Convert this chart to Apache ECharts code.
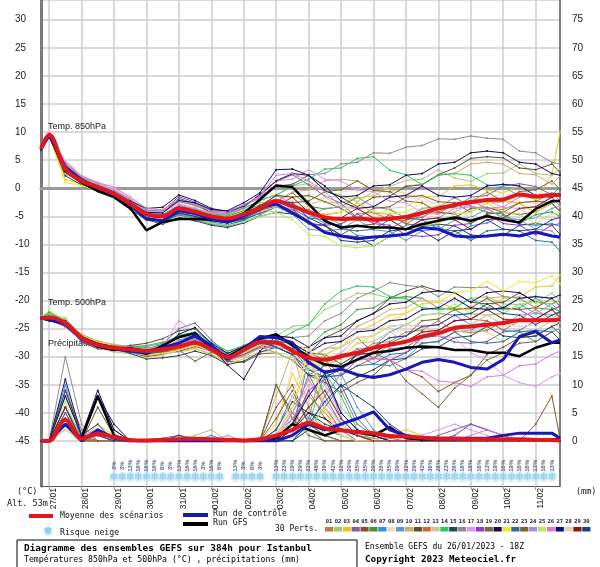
<!DOCTYPE html>
<html><head><meta charset="utf-8">
<script src="https://cdn.jsdelivr.net/npm/echarts@6/dist/echarts.min.js"></script>
<style>html,body{margin:0;padding:0;background:#fff}#c{width:600px;height:567px}</style>
</head><body><div id="c"></div>
<script>
// forecast hours of the sampled points (run 26/01/2023 18Z)
const hours = [0,6,18,30,42,54,66,78,90,102,114,126,138,150,162,174,186,198,210,222,234,246,258,270,282,294,306,318,330,342,354,366,378,384];
const dayLabels = ['27/01','28/01','29/01','30/01','31/01','01/02','02/02','03/02','04/02','05/02','06/02','07/02','08/02','09/02','10/02','11/02'];
const memberNames = ['01','02','03','04','05','06','07','08','09','10','11','12','13','14','15','16','17','18','19','20','21','22','23','24','25','26','27','28','29','30'];
const memberColors = ['#c8783c','#a0c878','#e8c81e','#7864a8','#8c5028','#3c963c','#3c8cdc','#ecdcc4','#5a96c8','#d2aa6e','#5a5032','#dc6428','#c8c896','#28c864','#284650','#8c8c8c','#dc96f0','#8c3cc8','#786440','#1e0a50','#f0e628','#2d6e9b','#786428','#9696dc','#b4f050','#dc78dc','#0a0a78','#e6d2b4','#8c1414','#1e3c8c'];

// Temp 850hPa (°C)
const t850Mean = [7.0,9.5,3.5,1.3,0.2,-1.0,-2.8,-4.6,-5.0,-3.6,-4.2,-5.0,-5.4,-4.6,-3.6,-2.3,-3.2,-4.3,-5.2,-5.5,-5.4,-5.6,-5.4,-5.1,-4.4,-3.6,-3.0,-2.5,-2.1,-2.0,-1.1,-1.5,-1.2,-1.2];
const t850Ctrl = [7.0,9.4,3.8,1.5,0.0,-1.2,-3.0,-5.5,-5.8,-4.0,-4.5,-5.5,-6.0,-5.0,-3.5,-2.8,-4.4,-6.0,-7.9,-8.5,-9.0,-8.7,-8.5,-8.2,-7.0,-7.3,-8.5,-8.7,-8.5,-8.2,-8.5,-7.8,-8.5,-8.7];
const t850Gfs = [7.0,9.6,3.0,1.0,-0.5,-1.5,-3.5,-7.5,-6.0,-5.5,-5.5,-5.6,-5.8,-4.5,-2.0,0.5,0.2,-2.8,-5.8,-7.0,-6.7,-7.0,-7.0,-7.3,-6.4,-5.8,-5.2,-5.8,-5.0,-5.6,-6.1,-3.7,-2.3,-2.3];
const t850Perts = [
[6.8,9.4,3.0,1.5,0.5,-0.8,-2.5,-4.2,-5.5,-3.0,-4.0,-5.5,-6.0,-5.0,-3.0,-2,-3.5,-3.8,-5.2,-6.4,-4.6,-4.3,-5.6,-5.8,-4.4,-4.6,-2.7,-2.2,-3.6,-3.8,-2.6,-2.4,-0.8,-2.3],
[7.2,9.6,4.5,2.0,0.8,-0.5,-2.0,-4.0,-4.5,-2.0,-3.0,-4.5,-5.0,-4.0,-2.0,-1.3,0.4,0.8,-0.6,-1.2,-2.4,-0.6,0.3,1.4,1.6,3.3,1.8,1.2,2.6,2.7,4.3,2.6,2.3,3.4],
[7.0,9.3,1.5,0.8,-0.3,-1.5,-3.0,-5.0,-5.5,-4.0,-4.5,-5.0,-5.5,-5.0,-4.0,-3.2,-1.6,-1.3,-2.5,-2.6,-1.7,-1.4,0.3,-1.2,-1.6,-1.5,0.4,0.6,-0.4,-0.8,0.4,-2.2,2.4,10],
[6.5,9.5,4.0,1.0,0.0,-1.2,-3.2,-4.5,-4.0,-1.5,-2.5,-4.0,-4.5,-3.5,-1.0,1.2,2.4,0.6,-1.4,-2.7,-5.3,-5.6,-7.3,-5.6,-5.2,-3.6,-3.4,-1.6,-1.3,0.4,0.8,0.3,-1.2,0.2],
[7.1,9.7,3.2,1.8,0.4,-0.6,-2.2,-4.8,-5.8,-4.5,-5.0,-5.8,-6.2,-5.5,-4.5,-3.3,-3.8,-6.3,-6.6,-8.3,-6.7,-6.4,-4.7,-6.3,-6.8,-5.7,-5.3,-3.6,-3.4,-4.3,-4.7,-4.2,-2.7,-4.1],
[7.3,9.5,2.5,1.2,0.6,-1.0,-2.6,-4.4,-4.8,-3.2,-3.8,-4.8,-5.0,-4.0,-3.0,-2.4,-0.8,-3.2,-3.7,-3.3,-1.6,-3.3,-3.8,-5.3,-3.6,-3.3,-1.7,-3.2,-4.3,-4.6,-6.3,-4.7,-4.2,-5.1],
[6.9,9.4,3.6,1.4,-0.2,-1.4,-3.4,-5.2,-6.0,-4.6,-5.2,-6.0,-6.5,-5.8,-4.2,-2.2,-3.4,-4.6,-6.3,-6.6,-8.4,-8.7,-8.3,-6.6,-6.3,-6.8,-8.3,-6.7,-6.2,-4.8,-6.4,-6.6,-6.3,-6.8],
[7.0,9.6,5.0,2.4,1.0,0.0,-1.8,-3.8,-4.2,-2.6,-3.4,-4.6,-4.8,-3.8,-2.5,-0.8,-2.3,-2.6,-2.4,-0.7,-0.3,1.2,-0.4,-0.8,-2.3,-2.6,-4.3,-2.8,-2.2,-0.7,-2.4,-2.7,-1.6,-3.2],
[6.6,9.2,3.3,0.9,-0.4,-1.6,-3.6,-5.4,-6.2,-5.0,-5.6,-6.4,-6.8,-6.0,-4.8,-3.3,-4.6,-7.3,-7.6,-7.3,-5.6,-7.4,-7.7,-9.3,-7.6,-7.3,-5.7,-5.2,-3.7,-5.3,-5.6,-5.3,-3.6,-3.2],
[7.4,9.8,4.2,1.6,0.3,-0.9,-2.4,-4.0,-3.8,-2.2,-3.2,-4.2,-4.4,-3.4,-2.6,-2.3,-0.7,-0.3,1.3,1.6,1.3,-0.4,-0.7,0.4,0.7,2.4,2.6,4.3,4.6,4.3,2.6,2.4,0.7,2.2],
[7.0,9.5,3.8,1.1,0.1,-1.1,-2.9,-4.6,-4.4,-1.8,-2.8,-4.4,-4.6,-3.0,-1.5,0.3,0.7,2.3,-0.4,-1.6,-3.3,-1.6,-1.4,0.3,0.6,2.4,3.6,5.3,5.6,5.4,3.6,3.3,4.3,2.8],
[6.8,9.3,2.8,1.3,0.2,-0.9,-2.7,-4.9,-5.2,-3.8,-4.4,-5.2,-5.6,-4.8,-3.4,-2.3,-2.6,-4.4,-4.7,-4.3,-2.6,-4.4,-4.6,-6.4,-4.6,-4.3,-2.6,-2.4,-0.7,-2.3,-2.7,-4.3,-2.6,-2.3],
[7.2,9.6,3.4,1.7,0.7,-0.4,-2.1,-4.3,-4.6,-3.4,-4.0,-4.9,-5.2,-4.2,-3.8,-4.3,-3.6,-3.3,-1.6,-1.3,-1.7,-3.3,-3.6,-5.3,-3.7,-3.4,-1.6,-3.3,-3.6,-5.4,-3.7,-3.3,-1.6,-3.2],
[7.1,9.5,3.9,1.5,0.4,-0.7,-2.6,-4.5,-4.9,-3.2,-3.6,-4.6,-4.8,-3.6,-2.2,-1.2,0.4,1.6,3.4,3.6,5.3,5.6,3.2,2.4,0.6,2.3,2.6,2.3,0.6,0.3,-1.4,-1.6,-1.3,0.3],
[6.7,9.4,2.2,0.6,-0.6,-1.8,-3.8,-5.6,-6.4,-5.2,-5.8,-6.6,-7.0,-6.2,-5.0,-4.3,-4.6,-6.3,-6.7,-8.4,-8.6,-10.3,-8.6,-8.3,-6.6,-6.4,-6.7,-8.3,-8.6,-8.4,-6.6,-6.3,-6.6,-8.2],
[7.0,9.6,4.4,1.9,0.9,-0.3,-2.0,-3.9,-4.1,-2.4,-3.0,-4.0,-4.2,-3.0,-1.8,0.3,0.6,2.4,2.6,4.3,4.6,6.3,6.2,7.3,7.6,8.8,8.7,9.3,8.9,8.7,6.6,6.3,4.6,4.3],
[7.3,9.7,4.8,2.2,0.8,-0.2,-1.9,-4.1,-4.3,-2.8,-3.6,-4.4,-4.6,-3.2,-1.6,1.3,1.6,3.3,1.6,1.3,-0.4,-0.6,-2.3,-2.6,-4.3,-4.6,-4.3,-2.6,-2.3,-3.4,-3.6,-3.3,-1.6,-3.3],
[6.9,9.4,3.1,1.0,-0.1,-1.3,-3.1,-5.0,-5.6,-4.4,-5.0,-5.6,-6.0,-5.2,-4.0,-2.3,-3.6,-6.3,-6.6,-6.4,-4.6,-6.3,-6.6,-8.3,-8.6,-8.3,-6.6,-6.3,-4.6,-6.3,-6.6,-8.3,-6.6,-6.3],
[7.0,9.5,3.5,1.4,0.3,-0.8,-2.7,-4.7,-5.3,-3.9,-4.3,-5.3,-5.8,-5.0,-3.8,-3.3,-1.6,-1.3,-2.4,-3.6,-5.3,-3.6,-3.3,-1.6,-1.3,-2.4,-2.6,-4.3,-2.6,-2.4,-0.6,-0.3,1.3,-0.2],
[7.2,9.5,3.7,1.6,0.5,-0.6,-2.3,-3.6,-3.4,-1.2,-2.2,-3.6,-4.2,-3.2,-1.2,1.3,2.6,2.3,-0.4,-1.6,-1.3,0.4,0.6,2.3,2.6,4.3,4.6,6.3,6.6,6.3,4.6,4.3,2.6,2.3],
[6.8,9.3,1.0,0.5,-0.5,-1.7,-3.3,-5.3,-5.4,-4.2,-4.8,-5.4,-5.8,-5.0,-3.6,-2.3,-2.6,-4.3,-4.6,-4.3,-2.6,-4.3,-4.6,-4.3,-2.6,-4.3,-4.6,-4.3,-2.6,-2.3,-2.6,-4.3,-2.6,-2.3],
[7.1,9.6,3.3,1.2,0.0,-1.2,-3.0,-5.1,-5.9,-4.8,-5.4,-6.2,-6.6,-5.6,-4.4,-3.3,-3.6,-5.3,-5.6,-7.3,-7.6,-7.3,-5.6,-5.3,-5.6,-7.3,-7.6,-9.3,-7.6,-7.3,-7.6,-9.3,-9.6,-11.2],
[7.0,9.4,2.9,1.3,0.2,-1.0,-2.8,-4.4,-5.0,-3.6,-4.2,-5.0,-5.4,-4.6,-3.6,-2.3,-2.6,-2.3,-0.6,-0.3,1.3,-0.4,-0.6,-2.3,-2.6,-4.3,-4.6,-6.3,-4.6,-4.3,-2.6,-2.3,-2.6,-4.2],
[6.9,9.5,3.6,1.5,0.6,-0.5,-2.4,-4.2,-4.7,-3.0,-3.8,-4.8,-5.2,-4.4,-3.2,-1.3,-2.6,-5.3,-3.6,-3.3,-3.6,-5.3,-5.6,-7.3,-5.6,-5.3,-3.6,-3.3,-3.6,-5.3,-5.6,-7.3,-7.6,-9.3],
[7.3,9.7,3.0,0.9,-0.3,-1.5,-3.5,-5.5,-6.2,-5.0,-5.4,-6.2,-6.6,-6.0,-5.0,-4.3,-5.6,-8.3,-8.6,-10.3,-10.6,-10.3,-8.6,-8.3,-6.6,-6.3,-4.6,-4.3,-2.6,-4.3,-4.6,-6.3,-4.6,-4.3],
[7.0,9.5,4.6,2.1,1.0,0.2,-1.6,-3.6,-3.9,-2.0,-2.8,-4.0,-4.2,-3.0,-1.4,2.3,2.6,1.3,-0.6,-3.3,-3.6,-3.3,-1.6,-1.3,0.4,-1.3,-1.6,-3.3,-3.6,-3.3,-1.6,-1.3,-1.6,-3.2],
[6.8,9.4,3.8,1.4,0.3,-0.9,-2.5,-4.3,-4.4,-2.2,-2.6,-3.8,-4.0,-2.6,-0.8,3.3,3.4,2.3,0.4,-2.3,-3.6,-3.3,-1.6,-1.3,0.4,-1.3,-1.6,-1.3,0.4,0.7,0.4,-1.3,-1.6,-1.2],
[7.1,9.6,2.6,1.0,-0.2,-1.4,-3.2,-5.0,-5.6,-4.2,-4.8,-5.4,-5.8,-5.2,-4.2,-3.3,-3.6,-3.3,-1.6,-3.3,-3.6,-5.3,-3.6,-3.3,-1.6,-3.3,-3.6,-5.3,-5.6,-5.3,-3.6,-5.3,-5.6,-5.2],
[7.0,9.5,3.4,1.6,0.4,-0.7,-2.5,-4.6,-5.0,-3.4,-4.0,-5.0,-5.4,-4.4,-3.2,-1.3,-1.6,-4.3,-5.6,-5.3,-3.6,-5.3,-5.6,-7.3,-5.6,-5.3,-5.6,-7.3,-5.6,-5.3,-3.6,-3.3,-1.6,-1.2],
[6.9,9.4,3.1,1.2,0.0,-1.2,-3.1,-5.2,-5.8,-4.4,-5.0,-5.8,-6.2,-5.4,-4.0,-2.3,-2.6,-5.3,-6.6,-9.3,-9.6,-9.3,-7.6,-7.3,-7.6,-9.3,-7.6,-7.3,-5.6,-7.3,-7.6,-7.3,-5.6,-5.2]
];

// Temp 500hPa (°C)
const t500Mean = [-23.1,-23.0,-24.0,-26.6,-27.9,-28.4,-28.7,-29.0,-28.7,-28.2,-27.5,-28.7,-30.1,-28.8,-27.4,-27.5,-29.0,-30.2,-30.5,-29.9,-29.3,-28.4,-27.9,-27.3,-26.4,-25.8,-24.9,-24.6,-24.3,-24.0,-23.5,-23.5,-23.5,-23.3];
const t500Ctrl = [-23.1,-23.4,-24.2,-26.8,-28.0,-28.6,-29.0,-29.3,-28.4,-27.6,-26.2,-28.0,-30.5,-28.6,-26.4,-26.6,-27.5,-31.0,-32.8,-32.2,-33.2,-33.7,-33.2,-32.2,-31.0,-30.5,-31.0,-31.9,-32.2,-30.5,-26.4,-25.5,-27.5,-27.0];
const t500Gfs = [-23.1,-23.5,-24.0,-26.5,-28.2,-28.8,-28.5,-29.5,-28.0,-26.5,-25.8,-28.5,-30.0,-28.4,-26.8,-26.0,-28.0,-30.0,-31.4,-31.8,-30.5,-29.3,-29.0,-28.4,-28.2,-28.3,-28.8,-28.8,-29.3,-29.3,-29.9,-28.4,-27.5,-27.5];
const t500Perts = [
[-23.0,-23.2,-24.5,-26.0,-27.5,-28.0,-28.5,-29.5,-28.0,-27.5,-27.0,-28.5,-30.0,-29.5,-28.0,-27,-28.6,-29.6,-31.3,-29.6,-29.3,-27.6,-27.3,-25.6,-25.3,-23.6,-25.4,-25.7,-25.3,-23.7,-23.3,-21.6,-23.4,-22],
[-23.2,-22.8,-23.5,-27.0,-28.5,-29.0,-29.5,-29.0,-27.5,-26.5,-26.0,-27.5,-29.0,-28.5,-27.0,-26.3,-24.6,-24.3,-21.6,-20.3,-18.7,-18.8,-19.6,-19.7,-21.3,-21.6,-21.3,-19.6,-19.3,-20.6,-20.7,-20.3,-18.7,-20],
[-23.1,-22.5,-24.0,-26.5,-27.8,-28.6,-29.0,-29.8,-29.5,-29.0,-28.5,-29.5,-31.0,-30.0,-28.5,-28.3,-29.6,-31.3,-29.6,-28.3,-25.6,-24.3,-22.6,-22.3,-20.6,-20.3,-21.4,-21.6,-21.3,-19.6,-19.3,-17.6,-17.4,-15.5],
[-22.9,-23.0,-23.8,-27.2,-28.2,-28.4,-28.2,-28.6,-27.8,-25.0,-24.0,-27.0,-29.5,-28.0,-27.0,-27.3,-28.6,-32.3,-33.6,-33.3,-30.6,-30.3,-28.6,-28.3,-26.6,-26.3,-27.4,-27.6,-27.3,-25.6,-25.3,-23.6,-23.3,-24],
[-23.0,-23.4,-24.6,-26.4,-27.6,-28.8,-29.2,-30.0,-29.6,-29.0,-28.2,-29.0,-30.8,-31.0,-29.5,-29.3,-30.6,-33.3,-34.6,-36.3,-34.6,-33.3,-30.6,-32.3,-33.6,-36.2,-34.6,-33.3,-29.6,-28.3,-26.6,-26.3,-24.6,-26],
[-23.2,-22.0,-23.8,-26.8,-28.0,-28.2,-28.4,-28.8,-28.0,-27.6,-26.8,-28.4,-30.0,-29.0,-27.0,-28.3,-28.6,-28.3,-25.6,-24.3,-21.6,-21.3,-19.6,-19.3,-19.6,-21.3,-21.6,-23.3,-21.6,-21.3,-19.6,-21.3,-21.6,-21],
[-23.1,-23.6,-24.2,-26.2,-27.4,-28.0,-28.6,-29.4,-29.2,-28.4,-27.6,-28.8,-30.4,-29.4,-27.6,-27.3,-27.6,-30.3,-31.6,-31.3,-29.6,-31.3,-31.6,-30.3,-27.6,-27.3,-25.6,-25.3,-23.6,-25.3,-25.6,-27.3,-25.6,-25],
[-22.8,-22.8,-23.6,-26.6,-28.2,-29.0,-29.6,-30.2,-29.8,-28.8,-27.8,-29.2,-30.6,-29.2,-27.8,-26.3,-26.6,-29.3,-29.6,-29.3,-27.6,-27.3,-25.6,-25.3,-23.6,-23.3,-21.6,-21.3,-21.6,-23.3,-23.6,-23.3,-21.6,-23],
[-23.0,-23.2,-24.4,-26.8,-27.8,-28.2,-28.0,-28.4,-28.6,-27.0,-26.4,-28.0,-29.6,-28.8,-27.4,-28.3,-29.6,-32.3,-32.6,-32.3,-29.6,-28.3,-25.6,-24.3,-22.6,-22.3,-22.6,-24.3,-22.6,-22.3,-20.6,-22.3,-22.6,-22],
[-23.1,-22.6,-23.4,-26.0,-27.2,-27.8,-28.2,-28.6,-28.0,-27.4,-27.0,-28.6,-30.2,-29.6,-28.2,-27.3,-28.6,-31.3,-28.6,-27.3,-24.6,-23.3,-21.6,-21.3,-19.6,-21.3,-21.6,-21.3,-19.6,-19.3,-19.6,-21.3,-19.6,-19],
[-23.0,-23.0,-24.0,-27.4,-28.6,-28.8,-28.0,-27.6,-26.8,-25.4,-25.0,-27.8,-29.8,-28.4,-26.6,-28.3,-29.6,-29.3,-26.6,-25.3,-23.6,-22.3,-19.6,-18.3,-17.4,-18.3,-18.6,-20.3,-20.6,-20.3,-18.6,-20.3,-20.6,-20],
[-23.2,-23.3,-24.2,-26.6,-27.6,-28.4,-29.0,-29.2,-29.0,-28.6,-27.8,-28.6,-29.8,-29.0,-27.8,-27.3,-27.6,-29.3,-30.6,-33.3,-31.6,-30.3,-27.6,-27.3,-25.6,-25.3,-23.6,-23.3,-23.6,-25.3,-23.6,-23.3,-21.6,-23],
[-23.1,-23.1,-24.8,-27.0,-28.4,-29.2,-29.4,-29.6,-29.4,-29.2,-28.6,-29.6,-31.2,-30.4,-29.0,-29.3,-29.6,-31.3,-31.6,-30.3,-27.6,-27.3,-25.6,-27.3,-27.6,-27.3,-25.6,-25.3,-25.6,-27.3,-25.6,-25.3,-23.6,-25],
[-22.9,-22.4,-23.2,-26.2,-27.6,-28.0,-28.4,-28.2,-27.6,-26.2,-25.6,-27.4,-29.0,-28.0,-26.8,-27.3,-25.6,-24.3,-20.6,-18.3,-17.4,-17.6,-19.3,-19.6,-21.3,-21.6,-21.3,-19.6,-21.3,-21.6,-21.3,-19.6,-21.3,-22],
[-23.0,-23.5,-24.4,-26.8,-28.0,-28.6,-29.4,-30.4,-30.2,-29.8,-29.0,-29.8,-31.4,-30.8,-29.2,-28.3,-28.6,-31.3,-32.6,-35.3,-33.6,-32.3,-30.6,-30.3,-28.6,-28.3,-26.6,-26.3,-24.6,-26.3,-26.6,-26.3,-24.6,-24],
[-23.1,-22.7,-23.6,-26.4,-27.8,-28.2,-28.2,-28.0,-27.4,-26.6,-26.4,-28.0,-29.4,-28.2,-26.4,-26.3,-26.6,-26.3,-23.6,-22.3,-19.6,-18.3,-16.8,-17.3,-17.6,-19.3,-17.6,-17.7,-17.6,-19.3,-19.6,-19.3,-19.6,-21],
[-23.0,-23.0,-24.0,-26.6,-28.0,-28.6,-28.8,-29.0,-28.2,-23.5,-26.0,-28.8,-30.4,-29.2,-27.6,-27.3,-27.6,-30.3,-30.6,-29.3,-26.6,-26.3,-24.6,-24.3,-24.6,-26.3,-26.6,-29.3,-30.6,-33.3,-34.6,-35.3,-33.6,-33],
[-23.2,-23.4,-24.6,-27.2,-28.4,-28.8,-29.0,-29.4,-29.0,-28.4,-27.8,-29.0,-30.8,-29.6,-28.2,-29.3,-30.6,-33.3,-31.6,-30.3,-28.6,-30.3,-30.6,-29.3,-26.6,-25.3,-23.6,-23.3,-21.6,-21.3,-21.6,-23.3,-21.6,-21],
[-23.0,-23.1,-24.0,-26.4,-27.6,-28.2,-28.6,-29.0,-29.2,-28.8,-30.8,-29.2,-30.2,-29.2,-28.0,-28.3,-28.6,-30.3,-28.6,-28.3,-26.6,-29.3,-30.6,-34.3,-36.6,-39,-35.6,-33.3,-30.6,-29.3,-27.6,-27.3,-25.6,-27],
[-23.1,-22.9,-23.8,-26.8,-28.2,-28.6,-28.4,-28.8,-28.4,-27.6,-26.6,-28.2,-31.5,-34.0,-29.0,-26.3,-26.6,-28.3,-26.6,-26.3,-23.6,-22.3,-20.6,-20.3,-18.6,-18.3,-18.6,-20.3,-18.6,-18.3,-18.6,-20.3,-20.6,-20],
[-22.9,-23.2,-24.4,-26.2,-27.4,-28.0,-28.8,-29.6,-29.4,-28.8,-28.0,-28.8,-30.0,-28.8,-27.6,-27.3,-28.6,-31.3,-31.6,-30.3,-27.6,-26.3,-23.6,-22.3,-20.6,-20.3,-18.6,-18.3,-16.6,-18.3,-16.6,-16.8,-15.6,-17],
[-23.0,-23.3,-24.2,-27.0,-28.0,-28.6,-29.2,-29.6,-29.0,-28.2,-27.4,-28.6,-30.6,-29.6,-28.4,-28.3,-29.6,-32.3,-33.6,-33.3,-31.6,-31.3,-29.6,-29.3,-27.6,-27.3,-25.6,-27.3,-27.6,-27.3,-25.6,-25.3,-25.6,-27],
[-23.2,-23.0,-23.8,-26.6,-28.0,-28.4,-28.6,-28.8,-28.6,-28.0,-27.2,-28.4,-29.8,-28.8,-27.4,-27.3,-27.6,-29.3,-29.6,-31.3,-29.6,-29.3,-27.6,-26.3,-23.6,-23.3,-21.6,-21.3,-19.6,-21.3,-21.6,-21.3,-19.6,-21],
[-23.1,-22.8,-23.6,-26.8,-27.8,-28.2,-28.8,-29.2,-28.8,-27.2,-26.8,-28.4,-29.6,-28.6,-27.2,-26.3,-27.6,-30.3,-30.6,-30.3,-28.6,-28.3,-26.6,-26.3,-24.6,-24.3,-22.6,-22.3,-22.6,-24.3,-22.6,-22.3,-20.6,-22],
[-23.0,-21.8,-23.4,-26.6,-28.2,-28.8,-29.0,-29.4,-28.8,-28.4,-27.6,-28.8,-30.2,-29.4,-28.0,-29.3,-30.6,-32.3,-29.6,-28.3,-26.6,-26.3,-24.6,-24.3,-22.6,-22.3,-20.6,-22.3,-22.6,-22.3,-20.6,-20.3,-20.6,-20],
[-23.1,-23.2,-24.2,-26.8,-28.0,-28.6,-29.0,-29.2,-28.6,-27.8,-27.0,-29.0,-30.6,-29.8,-28.4,-28.3,-28.6,-31.3,-32.6,-32.3,-30.6,-30.3,-30.6,-32.3,-32.6,-34.3,-34.6,-35.3,-33.6,-33.3,-31.6,-31.3,-29.6,-29],
[-22.9,-23.0,-23.6,-26.4,-27.6,-28.2,-28.6,-29.0,-28.4,-26.0,-24.8,-27.6,-29.4,-28.2,-26.6,-26.3,-27.6,-29.3,-27.6,-27.3,-25.6,-25.3,-23.6,-23.3,-21.6,-21.3,-19.6,-21.3,-21.6,-21.3,-19.6,-19.3,-19.6,-19],
[-23.0,-23.1,-24.0,-26.6,-27.8,-28.4,-28.8,-29.0,-28.8,-28.4,-27.8,-28.8,-30.2,-29.2,-27.8,-28.3,-28.6,-30.3,-28.6,-28.3,-26.6,-26.3,-24.6,-24.3,-24.6,-26.3,-24.6,-24.3,-22.6,-24.3,-24.6,-24.3,-22.6,-24],
[-23.2,-23.4,-24.4,-26.8,-28.2,-28.6,-28.8,-29.2,-28.8,-28.2,-27.4,-28.6,-30.0,-29.0,-27.6,-27.3,-28.6,-31.3,-32.6,-32.3,-29.6,-29.3,-27.6,-27.3,-25.6,-25.3,-23.6,-23.3,-21.6,-23.3,-23.6,-23.3,-21.6,-23],
[-23.1,-23.2,-24.2,-26.6,-27.8,-28.4,-28.6,-29.0,-28.6,-28.0,-27.2,-28.6,-30.0,-28.8,-27.4,-28.3,-29.6,-33.3,-33.6,-32.3,-29.6,-28.3,-26.6,-26.3,-24.6,-24.3,-22.6,-22.3,-20.6,-22.3,-22.6,-24.3,-22.6,-22]
];

// Precipitation (mm, right axis)
const precipMean = [0,0,3.8,0.4,1.3,0.7,0.2,0.1,0.2,0.3,0.4,0.3,0.2,0.1,0.3,1.0,2.0,3.2,2.3,1.9,1.6,1.4,0.9,0.8,0.6,0.4,0.4,0.3,0.3,0.3,0.3,0.2,0.2,0.1];
const precipCtrl = [0,0,3,0,2,0.5,0,0,0,0,0,0,0,0,0,0,1,3,2,3,4,5.2,2,1,0.5,0.5,0.5,0.5,0.5,1,1.4,1.4,1.4,0.5];
const precipGfs = [0,0,3,0.5,8,1,0,0,0,0,0,0,0,0,0,0.5,3,2,1,2,1.5,1,2.5,0.5,0.3,0.3,0.3,0.3,0.3,0.3,0.3,0.3,0.3,0.3];
const precipPerts = [
[0,0,3,0.5,1,0.5,0,0,0,0.5,0,0,0,0,0,1,4,8,5,2,1,0.5,0.5,0,0,0,0,0,0.5,0,0,0,0,0],
[0,0,5,1,0,0,0,0,0,0,1,2,0,0,0,0,2,6,10,6,3,1,0,0,0,0,0,0,0,0,0,0,0,0],
[0,0,2,0,3,1,0,0,0,0,0,0,1,0,0,3,12,6,2,1,0,0,1,2,1,0,0,0,0,0,0,0,0,0],
[0,0,6,0.5,0,0,0,0,0.5,1,0.5,0,0,0,0,0,1,15,8,3,1,0,0,0,0,1,2,3,2,1,0,0,0,0],
[0,0,4,0,8,2,0,0,0,0,0,0,0,0,0,6,10,3,1,0,0,0,0,0,0,0,0,0,0,0,0,3,8,0.5],
[0,0,8,1,0,0,0,0,0,0,0,0,0,0,0,0,3,12,6,2,0,0,0,0,0,0,0,0,0,0,0,0,0,0],
[0,0,10,0,2,0,0,0,0,0,0,1,0,0,0,2,8,4,2,1,0,0,0,0,0,0,0,0,0,0,0,0,0,0],
[0,0,3,0,0,0,0,0,0,0,0,0,0,0,0,0,14,18,6,1,0,0,0,0,0,0,0,0,0,0,0,0,0,0],
[0,0,6,1,1,0,0,0,0,0,0,0,0,0,0,0,0,2,8,12,6,2,0,0,0,0,0,0,0,0,0,0,0,0],
[0,0,2,0,0,0,0,0,0,0,0,0,0,0,0.5,8,16,6,1,0,0,0,0,0,0,0,0,0,0,0,0,0,0,0],
[0,0,4,0,6,1,0,0,0,0,0,0,0,0,0,10,5,2,0,0,0,0,0,0,0,0,0,0,0,0,0,0,0,0],
[0,0,9,2,0,0,0,0,0,0,0,0,0,0,0,0,2,9,4,1,0,0,0,0,0,0,0,0,0,0,0,0,0,0],
[0,0,3,0,0,0,0,0,0,0,0,0,0,0,0,1,6,14,10,4,1,0,0,0,0,0,0,0,0,0,0,0,0,0],
[0,0,5,0,1,0,0,0,0,0,0,0,0,0,0,0,1,3,12,8,2,0,0,0,0,0,0,0,0,0,0,0,0,0],
[0,0,4,1,3,0,0,0,0,1,0,0,0,0,0,2,7,5,3,2,1,0,0,0,0,0,0,0,0,0,0,0,0,0],
[0,0,15,3,0,0,0,0,0,0,0,0,0,0,0,0,0,4,15,9,3,1,0,0,0,0,0,0,0,0,0,0,0,0],
[0,0,2,0,2,1,0,0,0,0,0,0,1,0,0,0,5,10,7,3,1,0,0,0,1,2,3,2,1,0,0,0,0,0],
[0,0,5,0,0,0,0,0,0,0,0,0,0,0,0,0,3,9,11,5,2,1,0,0,0,0,1,3,2,1,0,0,0,0],
[0,0,3,0,0,0,0,0,0,0,0,0,0,0,0,10,4,1,0,0,0,0,0,0,0,0,0,0,0,0,0,0,0,0],
[0,0,11,1,8,3,0,0,0,0,0,0,0,0,0,0,2,5,4,2,1,0,0,0,0,0,0,0,0,0,0,0,0,0],
[0,0,2,0,0,0,0,0,0,0,0,0,0,0,0,0,6,16,5,1,0,0,0,0,0,0,0,0,0,0,0,0,0,0],
[0,0,6,0,0,0,0,0,0,0,0,0,0,0,0,0,0,2,6,10,4,1,0,0,0,0,0,0,0,0,0,0,0,0],
[0,0,4,0,0,0,0,0,0,0,0,0,0,0,0,4,9,3,1,0,0,0,0,0,0,0,0,0,0,0,0,0,0,0],
[0,0,3,0,1,0,0,0,0,0,0,0,0,0,0,0,4,8,12,4,1,0,0,0,0,0,0,0,0,0,0,0,0,0],
[0,0,7,0,0,0,0,0,0,0,0,0,0,0,0,0,1,2,6,3,1,0,0,0,0,0,0,0,0,0,0,0,0,0],
[0,0,4,1,2,0,0,0,0,0,0,0,0,0,0,1,5,11,6,2,0,0,0,0,0,0,0,1,2,1,0,0,0,0],
[0,0,8,1,9,2,0,0,0,0,0,0,0,0,0,0,3,8,12,5,2,1,0,0,0,0,0,0,0,0,0,0,0,0],
[0,0,2,0,0,0,0,0,0,0,0,0,0,0,0,0,8,17,6,1,0,0,0,0,0,0,0,0,0,0,0,0,0,0],
[0,0,6,0,0,0,0,0,0,0,0,0,0,0,0,0,2,6,9,4,1,0,0,0,0,0,0,0,0,0,0,0,0,0],
[0,0,9,1,1,0,0,0,0,0,0,0,0,0,0,0,0,3,7,10,8,6,3,1,0,0,0,0,0,0,0,0,0,0]
];

// snow risk (%) per 6-hour step (65 steps from 26/01 18Z)
const snowRisk = [null,null,null,null,null,null,null,null,null,
3,3,13,16,16,16,6,3,13,16,16,3,16,6,null,13,3,6,3,null,
13,23,19,29,32,48,39,42,32,29,35,35,29,26,35,39,32,29,42,36,26,23,26,16,19,16,13,19,16,19,16,16,13,16,13,null];

// ---------- chart ----------
const steps = snowRisk.map((v, i) => (i % 4 === 1 ? dayLabels[(i - 1) / 4] : ''));
const isDay = (i) => i % 4 === 1;
const pairs = (arr) => hours.map((h, i) => [h, arr[i]]);
const mono = '"DejaVu Sans Mono", "Liberation Mono", monospace';
const sans = '"Liberation Sans", Arial, sans-serif';
const fmt5 = (v) => (Math.abs(v % 5) < 1e-9 ? String(v) : '');

const series = [];
[[t850Perts, 0], [t500Perts, 0], [precipPerts, 1]].forEach(([set, yi]) => {
  set.forEach((arr, k) => series.push({
    type: 'line', xAxisIndex: 1, yAxisIndex: yi, data: pairs(arr),
    symbol: 'circle', symbolSize: 2, showSymbol: true,
    lineStyle: { width: 1, color: memberColors[k] }, itemStyle: { color: memberColors[k] },
    z: 2, silent: true
  }));
});
const mainLine = (arr, yi, color, w, z, smooth) => ({
  type: 'line', xAxisIndex: 1, yAxisIndex: yi, data: pairs(arr), showSymbol: false,
  smooth: smooth, lineStyle: { width: w, color: color }, itemStyle: { color: color }, z: z, silent: true
});
series.push(mainLine(t850Gfs, 0, '#000000', 2.5, 4, false));
series.push(mainLine(t500Gfs, 0, '#000000', 2.5, 4, false));
series.push(mainLine(precipGfs, 1, '#000000', 2.5, 4, false));
series.push(mainLine(t850Ctrl, 0, '#1818b8', 3, 5, false));
series.push(mainLine(t500Ctrl, 0, '#1818b8', 3, 5, false));
series.push(mainLine(precipCtrl, 1, '#1818b8', 3, 5, false));
series.push(mainLine(t850Mean, 0, '#e3161c', 4, 6, 0.35));
series.push(mainLine(t500Mean, 0, '#e3161c', 4, 6, 0.35));
series.push(mainLine(precipMean, 1, '#e3161c', 4, 6, 0.35));

const snowPts = [];
snowRisk.forEach((v, i) => { if (v != null) snowPts.push([i, v]); });
series.push({
  type: 'scatter', xAxisIndex: 2, yAxisIndex: 2, silent: true, z: 3,
  data: snowPts.map(p => [p[0], 0.2]),
  symbol: 'circle', symbolSize: 10, itemStyle: { color: '#c8eaf8' },
  label: { show: true, position: 'inside', formatter: '❄', fontSize: 10, color: '#6cbde4', fontFamily: '"DejaVu Sans", sans-serif' }
});
series.push({
  type: 'scatter', xAxisIndex: 2, yAxisIndex: 2, silent: true, z: 4,
  data: snowPts.map(p => [p[0], 0.45, p[1]]),
  symbolSize: 0,
  label: { show: true, position: 'inside', rotate: 90, formatter: (p) => p.data[2] + '%',
    fontSize: 6, fontWeight: 'bold', color: '#2b3570', fontFamily: sans }
});

const graphics = [
  { type: 'text', x: 48, y: 127, z: 1, style: { text: 'Temp. 850hPa', font: '9px ' + sans, fill: '#222', verticalAlign: 'middle' } },
  { type: 'text', x: 48, y: 303, z: 1, style: { text: 'Temp. 500hPa', font: '9px ' + sans, fill: '#222', verticalAlign: 'middle' } },
  { type: 'text', x: 48, y: 344, z: 1, style: { text: 'Précipitations', font: '9px ' + sans, fill: '#222', verticalAlign: 'middle' } },
  { type: 'text', x: 17, y: 492, style: { text: '(°C)', font: '8.5px ' + mono, fill: '#111', verticalAlign: 'middle' } },
  { type: 'text', x: 7, y: 504, style: { text: 'Alt. 53m', font: '8.5px ' + mono, fill: '#111', verticalAlign: 'middle' } },
  { type: 'text', x: 576, y: 492, style: { text: '(mm)', font: '8.5px ' + mono, fill: '#111', verticalAlign: 'middle' } },
  { type: 'line', shape: { x1: 29, y1: 516, x2: 53, y2: 516 }, style: { stroke: '#e3161c', lineWidth: 4 } },
  { type: 'text', x: 60, y: 516, style: { text: 'Moyenne des scénarios', font: '8.2px ' + mono, fill: '#111', verticalAlign: 'middle' } },
  { type: 'line', shape: { x1: 183, y1: 515, x2: 208, y2: 515 }, style: { stroke: '#1818b8', lineWidth: 4 } },
  { type: 'text', x: 213, y: 514, style: { text: 'Run de contrôle', font: '8.2px ' + mono, fill: '#111', verticalAlign: 'middle' } },
  { type: 'line', shape: { x1: 183, y1: 524, x2: 208, y2: 524 }, style: { stroke: '#000', lineWidth: 4 } },
  { type: 'text', x: 213, y: 523, style: { text: 'Run GFS', font: '8.2px ' + mono, fill: '#111', verticalAlign: 'middle' } },
  { type: 'circle', shape: { cx: 48, cy: 531, r: 4.5 }, style: { fill: '#c8eaf8' } },
  { type: 'text', x: 48, y: 531, style: { text: '❄', font: '10px "DejaVu Sans", sans-serif', fill: '#6cbde4', align: 'center', verticalAlign: 'middle' } },
  { type: 'text', x: 60, y: 533, style: { text: 'Risque neige', font: '8.2px ' + mono, fill: '#111', verticalAlign: 'middle' } },
  { type: 'text', x: 275, y: 529, style: { text: '30 Perts.', font: '8px ' + mono, fill: '#111', verticalAlign: 'middle' } },
  { type: 'rect', shape: { x: 17, y: 540, width: 340, height: 40 }, style: { fill: 'none', stroke: '#000', lineWidth: 1 } },
  { type: 'text', x: 24, y: 549, style: { text: 'Diagramme des ensembles GEFS sur 384h pour Istanbul', font: 'bold 9.4px ' + mono, fill: '#000', verticalAlign: 'middle' } },
  { type: 'text', x: 24, y: 560, style: { text: 'Températures 850hPa et 500hPa (°C) , précipitations (mm)', font: '8.2px ' + mono, fill: '#000', verticalAlign: 'middle' } },
  { type: 'text', x: 365, y: 547, style: { text: 'Ensemble GEFS du 26/01/2023 - 18Z', font: '8px ' + mono, fill: '#000', verticalAlign: 'middle' } },
  { type: 'text', x: 365, y: 560, style: { text: 'Copyright 2023 Meteociel.fr', font: 'bold 9.3px ' + mono, fill: '#000', verticalAlign: 'middle' } }
];
memberColors.forEach((c, k) => {
  const x = 325 + k * 8.87;
  graphics.push({ type: 'rect', shape: { x: x, y: 527, width: 8.2, height: 4.5 }, style: { fill: c } });
  graphics.push({ type: 'text', x: x + 4.1, y: 521.5, style: { text: memberNames[k], font: 'bold 5.5px ' + mono, fill: '#223', align: 'center', verticalAlign: 'middle' } });
});

const chart = echarts.init(document.getElementById('c'), null, { renderer: 'canvas' });
chart.setOption({
  animation: false,
  backgroundColor: '#ffffff',
  grid: [
    { left: 41, right: 40, top: -2.8, height: 443.8 },
    { left: 41, right: 40, top: 441, height: 45 }
  ],
  xAxis: [
    { type: 'category', gridIndex: 0, data: steps, boundaryGap: false,
      axisLine: { show: true, onZero: true, onZeroAxisIndex: 0, lineStyle: { color: '#9a9a9a', width: 3 } },
      axisTick: { show: false }, axisLabel: { show: false },
      splitLine: { show: true, interval: isDay, lineStyle: { color: '#cdcdcd', width: 1.5 } } },
    { type: 'value', gridIndex: 0, min: 0, max: 384, show: false },
    { type: 'category', gridIndex: 1, data: steps, boundaryGap: false,
      axisLine: { show: true, onZero: false, lineStyle: { color: '#555', width: 1 } },
      axisTick: { show: true, interval: isDay, length: 4, lineStyle: { color: '#999' } },
      axisLabel: { show: true, interval: isDay, rotate: 90, margin: 2, fontSize: 8.5, color: '#111',
        fontFamily: sans, verticalAlign: 'top' },
      splitLine: { show: true, interval: isDay, lineStyle: { color: '#cdcdcd', width: 1.5 } } }
  ],
  yAxis: [
    { type: 'value', gridIndex: 0, min: -45, max: 33.5, interval: 5, position: 'left',
      axisLine: { show: true, lineStyle: { color: '#7a7a7a', width: 3 } },
      axisTick: { show: false },
      axisLabel: { formatter: fmt5, align: 'left', margin: 26, fontSize: 10, color: '#222', fontFamily: sans },
      splitLine: { show: true, lineStyle: { color: '#cdcdcd', width: 1.5 } } },
    { type: 'value', gridIndex: 0, min: 0, max: 78.5, interval: 5, position: 'right',
      axisLine: { show: true, lineStyle: { color: '#555', width: 1.5 } },
      axisTick: { show: false },
      axisLabel: { formatter: fmt5, align: 'left', margin: 12, fontSize: 10, color: '#222', fontFamily: sans },
      splitLine: { show: false } },
    { type: 'value', gridIndex: 1, min: 0, max: 1, position: 'left',
      axisLine: { show: true, lineStyle: { color: '#7a7a7a', width: 3 } },
      axisTick: { show: false }, axisLabel: { show: false }, splitLine: { show: false } },
    { type: 'value', gridIndex: 1, min: 0, max: 1, position: 'right',
      axisLine: { show: true, lineStyle: { color: '#555', width: 1.5 } },
      axisTick: { show: false }, axisLabel: { show: false }, splitLine: { show: false } }
  ],
  series: series,
  graphic: graphics
});
</script>
</body></html>
